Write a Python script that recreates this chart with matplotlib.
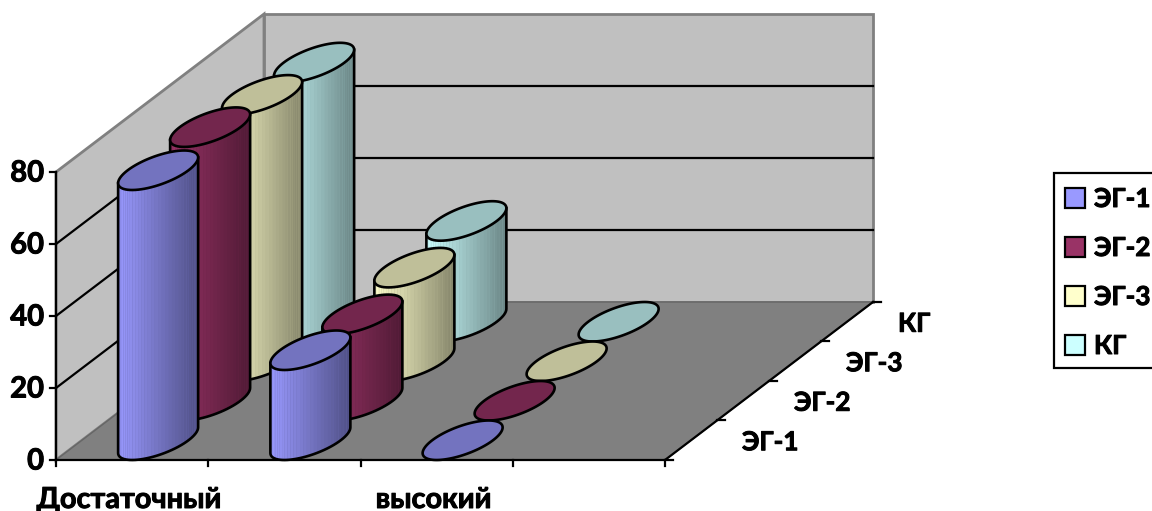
import numpy as np
import matplotlib
matplotlib.use('Agg')
import matplotlib.pyplot as plt
import matplotlib.patheffects as pe
from matplotlib.patches import Polygon, Rectangle

plt.rcParams['font.family'] = ['Lato', 'Open Sans', 'DejaVu Sans']

# data
categories = ['Достаточный', '', 'высокий', '']
series = ['ЭГ-1', 'ЭГ-2', 'ЭГ-3', 'КГ']
eg1 = [75, 25, 0]
eg2 = [76, 24, 0]
eg3 = [74, 26, 0]
kg = [72, 28, 0]
values = [eg1, eg2, eg3, kg]
y_ticks = [0, 20, 40, 60, 80]
colors = ['#9999FF', '#993366', '#FFFFCC', '#CCFFFF']

# oblique box in pixels
X0, Y0 = 56, 460
CAT_W = 152.25
DX, DY = 52, 39.5
UNIT = 3.6
ELL_W = 30.4
GREY = '#808080'
FS = 21
LW = 1.9
heavy = [pe.withStroke(linewidth=0.7, foreground='black')]

fig = plt.figure(figsize=(11.52, 5.11), dpi=100)
ax = fig.add_axes([0, 0, 1, 1])
ax.set_xlim(0, 1152)
ax.set_ylim(511, 0)
ax.axis('off')


def proj(cat, row, val=0):
    return X0 + cat * CAT_W + row * DX, Y0 - row * DY - val * UNIT


def shade(c, k):
    r, g, b = matplotlib.colors.to_rgb(c)
    return (r * k, g * k, b * k)


def ell(cx, cy, t):
    vx, vy = DX / 2, -DY / 2
    return cx + ELL_W * np.cos(t) + vx * np.sin(t), cy + vy * np.sin(t)


n_cat = len(categories)
n_row = len(series)
x_end = proj(n_cat, 0)
back_l = proj(0, n_row)
back_r = proj(n_cat, n_row)
top_l = proj(0, n_row, 80)
top_r = proj(n_cat, n_row, 80)
front_top = proj(0, 0, 80)

# walls and floor
ax.add_patch(Polygon([front_top, top_l, back_l, (X0, Y0)], fc='#C0C0C0', ec=GREY, lw=2))
ax.add_patch(Polygon([top_l, top_r, back_r, back_l], fc='#C0C0C0', ec=GREY, lw=2))
ax.add_patch(Polygon([(X0, Y0), x_end, back_r, back_l], fc=GREY, ec='#666666', lw=1))

# gridlines on both walls
for v in y_ticks[1:-1]:
    a = proj(0, 0, v)
    b = proj(0, n_row, v)
    c = proj(n_cat, n_row, v)
    ax.plot([a[0], b[0], c[0]], [a[1], b[1], c[1]], color='black', lw=1.6)

# axis lines and ticks
ax.plot([X0, X0], [Y0, front_top[1]], color='black', lw=1.6)
ax.plot([X0, x_end[0], back_r[0]], [Y0, Y0, back_r[1]], color='black', lw=1.6)
for v in y_ticks:
    p = proj(0, 0, v)
    ax.plot([p[0] - 6, p[0]], [p[1], p[1]], color='black', lw=1.6)
    ax.text(p[0] - 12, p[1] + 1.5, str(v), ha='right', va='center', fontsize=FS, fontweight='bold',
            path_effects=heavy)
for i in range(n_cat + 1):
    p = proj(i, 0)
    ax.plot([p[0], p[0]], [p[1], p[1] + 6], color='black', lw=1.6)
for i in range(n_row + 1):
    p = proj(n_cat, i)
    ax.plot([p[0], p[0] + 8], [p[1], p[1]], color='black', lw=1.6)

for i, name in enumerate(categories):
    p = proj(i + 0.5, 0)
    ax.text(p[0] - 3, 500, name, ha='center', va='center', fontsize=20.8, fontweight='bold',
            path_effects=heavy)
for i, name in enumerate(series):
    p = proj(n_cat, i + 0.5)
    ax.text(p[0] + 51, p[1] + 2, name, ha='left', va='center', fontsize=18.8, fontweight='bold',
            path_effects=heavy)

# cylinders, back row first
phi = np.arctan2(DX / 2, ELL_W)
ring = np.linspace(0, 2 * np.pi, 120)
arc = np.linspace(phi + np.pi, phi + 2 * np.pi, 37)
for row in range(n_row - 1, -1, -1):
    for cat, val in enumerate(values[row]):
        cx, cy = proj(cat + 0.5, row + 0.5)
        h = val * UNIT
        z = 3 + n_row - row
        if val > 0:
            bx, by = ell(cx, cy, arc)
            ax.add_patch(Polygon(np.r_[np.c_[bx, by - h], np.c_[bx[::-1], by[::-1]]],
                                 fc=shade(colors[row], 0.72), ec='none', zorder=z))
            for k in range(len(arc) - 1):
                pos = ((bx[k] + bx[k + 1]) / 2 - bx[0]) / (bx[-1] - bx[0])
                quad = [(bx[k], by[k] - h), (bx[k + 1], by[k + 1] - h),
                        (bx[k + 1], by[k + 1]), (bx[k], by[k])]
                ax.add_patch(Polygon(quad, fc=shade(colors[row], 1 - 0.48 * pos), ec='none', lw=0, zorder=z))
            ax.plot(np.r_[bx[0], bx, bx[-1]], np.r_[by[0] - h, by, by[-1] - h], color='black', lw=LW,
                    zorder=z, solid_joinstyle='round')
        ex, ey = ell(cx, cy - h, ring)
        ax.add_patch(Polygon(np.c_[ex, ey], fc=shade(colors[row], 0.75), ec='black', lw=LW, zorder=z))

# legend
ax.add_patch(Rectangle((1054, 173), 120, 195, fc='white', ec='black', lw=1.6, zorder=10))
for i, name in enumerate(series):
    y = 198 + i * 49
    ax.add_patch(Rectangle((1065, y - 10), 20, 20, fc=colors[i], ec='black', lw=1.6, zorder=11))
    ax.text(1094, y + 1, name, ha='left', va='center', fontsize=18.8, fontweight='bold', zorder=11,
            path_effects=heavy)

fig.savefig('out.png', dpi=100)
